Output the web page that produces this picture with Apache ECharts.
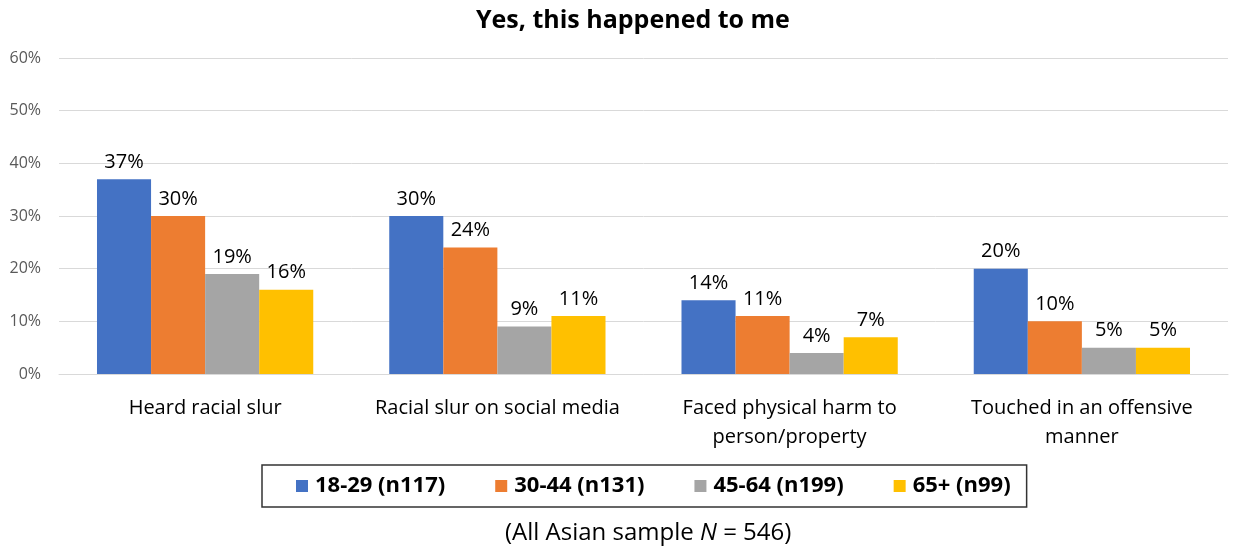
<!DOCTYPE html>
<html><head><meta charset="utf-8">
<script src="https://cdn.jsdelivr.net/npm/echarts@6/dist/echarts.min.js"></script>
<style>html,body{margin:0;padding:0;background:#fff}#c{width:1240px;height:548px}</style>
</head><body><div id="c"></div>
<script>
const categories = ["Heard racial slur", "Racial slur on social media", "Faced physical harm to\nperson/property", "Touched in an offensive\nmanner"];
const seriesNames = ["18-29 (n117)", "30-44 (n131)", "45-64 (n199)", "65+ (n99)"];
const age18_29 = [37, 30, 14, 20];
const age30_44 = [30, 24, 11, 10];
const age45_64 = [19, 9, 4, 5];
const age65plus = [16, 11, 7, 5];
const yTicks = [0, 10, 20, 30, 40, 50, 60];
const colors = ["#4472C4", "#ED7D31", "#A5A5A5", "#FFC000"];
const FONT = "Open Sans";
const data = [age18_29, age30_44, age45_64, age65plus];
const chart = echarts.init(document.getElementById('c'));
chart.setOption({
  animation: false,
  textStyle: {fontFamily: FONT},
  title: [{
    text: "Yes, this happened to me", left: 471, top: 3,
    textStyle: {fontSize: 25, fontWeight: 'bold', color: '#000', fontFamily: FONT}
  }, {
    text: "{a|(All Asian sample }{i|N}{a| = 546)}", left: 500, top: 516,
    textStyle: {fontWeight: 'normal', rich: {
      a: {fontSize: 24, color: '#000', fontWeight: 'normal', fontFamily: FONT},
      i: {fontSize: 24, color: '#000', fontWeight: 'normal', fontStyle: 'italic', fontFamily: FONT}
    }}
  }],
  legend: {
    data: seriesNames, left: 262, top: 465,
    padding: [10, 16, 10, 34],
    borderColor: '#333', borderWidth: 1.5, borderRadius: 0,
    itemGap: 50, itemWidth: 12, itemHeight: 12, icon: 'rect',
    textStyle: {fontSize: 22, fontWeight: 'bold', color: '#000', fontFamily: FONT, padding: [0, 0, 0, 2]}
  },
  grid: {left: 59, right: 12, top: 58, bottom: 174, containLabel: false},
  xAxis: {
    type: 'category', data: categories,
    axisLine: {show: true, lineStyle: {color: '#D9D9D9'}},
    axisTick: {show: false},
    axisLabel: {fontSize: 20, color: '#000', margin: 20, lineHeight: 29, fontFamily: FONT, interval: 0}
  },
  yAxis: {
    type: 'value', min: 0, max: 60, interval: 10,
    axisLabel: {formatter: v => yTicks.includes(v) ? v + '%' : '', fontSize: 16, color: '#595959', margin: 18, fontFamily: FONT},
    splitLine: {lineStyle: {color: '#D9D9D9'}},
    axisLine: {show: false}, axisTick: {show: false}
  },
  series: seriesNames.map((n, i) => ({
    name: n, type: 'bar', data: data[i],
    barGap: '0%', barCategoryGap: '26%',
    itemStyle: {color: colors[i]},
    label: {show: true, position: 'top', formatter: '{c}%', fontSize: 20, color: '#000', distance: 7, fontFamily: FONT}
  }))
});
</script></body></html>
